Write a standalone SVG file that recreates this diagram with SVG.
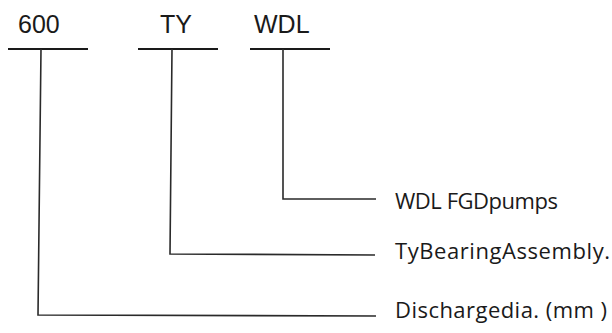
<svg xmlns="http://www.w3.org/2000/svg" width="612" height="333" viewBox="0 0 612 333">
<style>
.code{font-family:"Liberation Sans",Arial,sans-serif;font-size:25px;fill:#1a1a1a}
.lab{font-family:"Open Sans","Noto Sans",sans-serif;font-size:22px;fill:#1a1a1a}
.bar{stroke:#1a1a1a;stroke-width:2.2;fill:none}
.con{stroke:#2a2a2a;stroke-width:1.6;fill:none}
</style>
<rect width="612" height="333" fill="#fff"/>
<g id="node-600">
<text class="code" x="18" y="33">600</text>
<line class="bar" x1="8" y1="49" x2="88" y2="49"/>
</g>
<g id="node-TY">
<text class="code" x="160" y="33">TY</text>
<line class="bar" x1="138" y1="49" x2="218" y2="49"/>
</g>
<g id="node-WDL">
<text class="code" x="254" y="33">WDL</text>
<line class="bar" x1="250" y1="49" x2="330" y2="49"/>
</g>
<g id="label-wdl">
<text class="lab" x="395" y="209" textLength="163">WDL FGDpumps</text>
</g>
<g id="label-ty">
<text class="lab" x="395" y="259" textLength="215">TyBearingAssembly.</text>
</g>
<g id="label-600">
<text class="lab" x="395" y="318" textLength="212">Dischargedia. (mm )</text>
</g>
<g id="connectors">
<polyline class="con" points="283,49 283,199 376,199"/>
<polyline class="con" points="172,49 170,254 375,255"/>
<polyline class="con" points="41,49 38,315 376,316"/>
</g>
</svg>
